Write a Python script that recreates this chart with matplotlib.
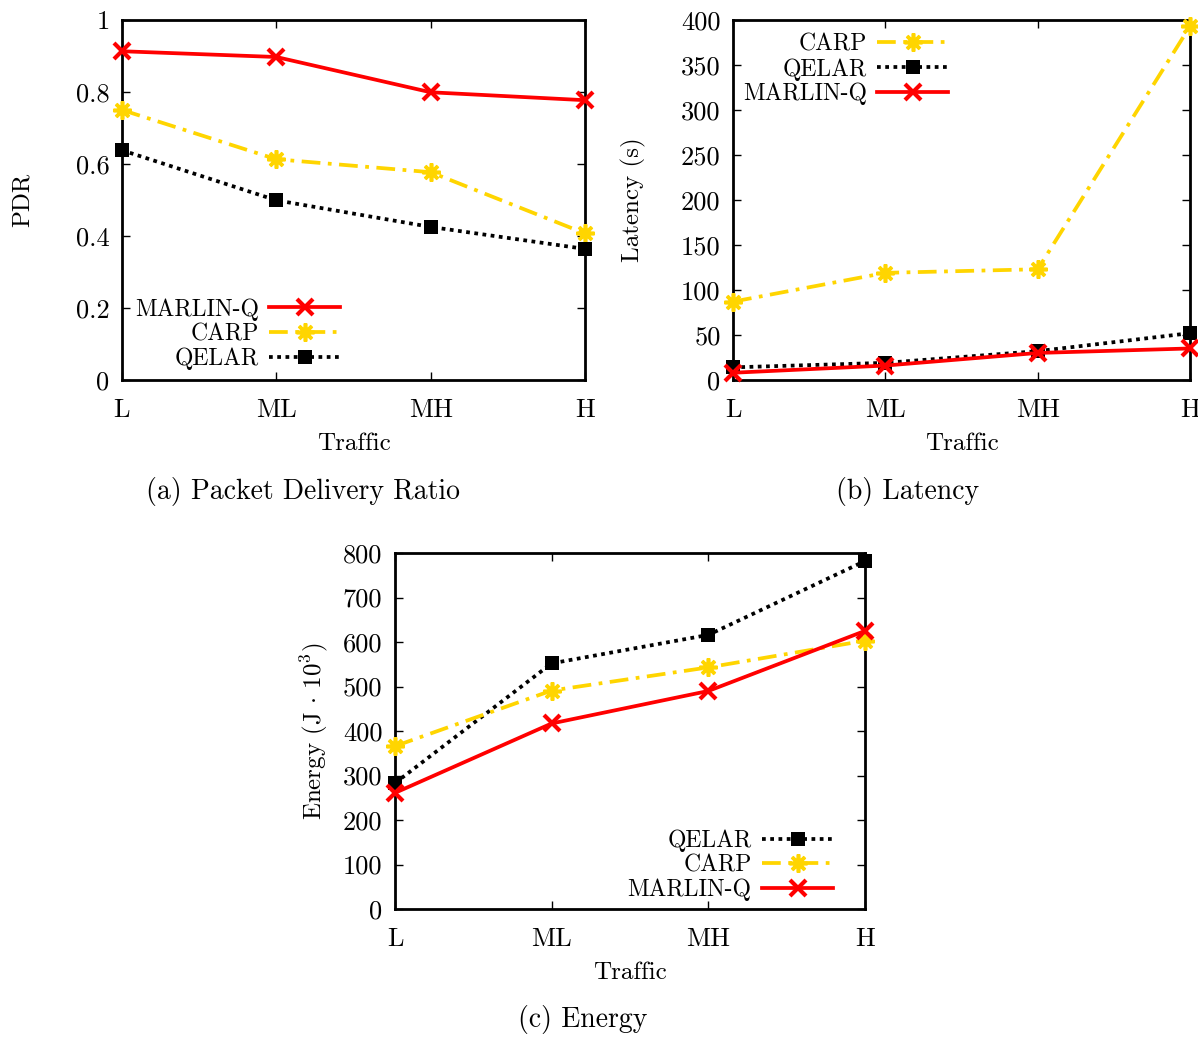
import matplotlib

matplotlib.use("Agg")
import matplotlib.pyplot as plt

plt.rcParams["font.family"] = ["cmr10", "DejaVu Serif"]
plt.rcParams["mathtext.fontset"] = "cm"
plt.rcParams["axes.formatter.use_mathtext"] = True

traffic = ["L", "ML", "MH", "H"]

# (a) packet delivery ratio
pdr_marlin = [0.913, 0.897, 0.799, 0.777]
pdr_carp = [0.750, 0.613, 0.577, 0.407]
pdr_qelar = [0.638, 0.499, 0.425, 0.364]

# (b) latency (s)
lat_carp = [87, 119, 123, 393]
lat_qelar = [14, 19, 32, 52]
lat_marlin = [8, 16, 30, 35]

# (c) energy (J x 10^3)
en_qelar = [283, 552, 616, 782]
en_carp = [366, 491, 543, 603]
en_marlin = [261, 417, 490, 625]

RED = "#ff0000"
GOLD = "#ffd500"
BLACK = "#000000"
TICK_FS = 19
LAB_FS = 18
LEG_FS = 17
CAP_FS = 20

STYLES = {
    "MARLIN-Q": dict(color=RED, ls="-", lw=2.7, marker="x", ms=11, mew=3),
    "CARP": dict(color=GOLD, ls=(0, (5, 2, 1, 2)), lw=2.7, marker=(8, 2, 0), ms=13, mew=2.6),
    "QELAR": dict(color=BLACK, ls=(0, (1, 1.2)), lw=2.7, marker="s", ms=10, mew=0),
}


def draw(ax, series, ylim, yticks, ylabel, ylabelpad, leg_loc, leg_anchor):
    x = list(range(len(traffic)))
    for name, vals in series:
        ax.plot(x, vals, label=name, clip_on=False, zorder=3, **STYLES[name])
    ax.set_xlim(0, len(traffic) - 1)
    ax.set_ylim(*ylim)
    ax.set_xticks(x)
    ax.set_xticklabels(traffic)
    ax.set_yticks(yticks)
    ax.set_yticklabels([f"{t:g}" for t in yticks])
    ax.tick_params(direction="in", top=True, right=True, labelsize=TICK_FS,
                   length=6, width=1)
    ax.tick_params(axis="x", pad=13)
    ax.tick_params(axis="y", pad=9)
    for s in ax.spines.values():
        s.set_linewidth(2)
    ax.set_xlabel("Traffic", fontsize=LAB_FS, labelpad=8)
    ax.set_ylabel(ylabel, fontsize=LAB_FS, labelpad=ylabelpad)
    ax.legend(loc=leg_loc, bbox_to_anchor=leg_anchor, frameon=False,
              markerfirst=False, fontsize=LEG_FS, handlelength=3.0,
              handletextpad=0.45, labelspacing=0.1, borderaxespad=0,
              borderpad=0)


fig = plt.figure(figsize=(11.98, 10.37), dpi=100)
ax_a = fig.add_axes([0.1018, 0.6336, 0.3865, 0.3472])
ax_b = fig.add_axes([0.6119, 0.6336, 0.3815, 0.3472])
ax_c = fig.add_axes([0.3297, 0.1234, 0.3923, 0.3433])

draw(ax_a, [("MARLIN-Q", pdr_marlin), ("CARP", pdr_carp), ("QELAR", pdr_qelar)],
     (0, 1), [0, 0.2, 0.4, 0.6, 0.8, 1], "PDR", 30, "lower right", (0.471, 0.028))

draw(ax_b, [("CARP", lat_carp), ("QELAR", lat_qelar), ("MARLIN-Q", lat_marlin)],
     (0, 400), list(range(0, 401, 50)), "Latency (s)", 25, "upper right", (0.4705, 0.962))

draw(ax_c, [("QELAR", en_qelar), ("CARP", en_carp), ("MARLIN-Q", en_marlin)],
     (0, 800), list(range(0, 801, 100)), r"Energy (J $\cdot$ 10$^3$)", 9,
     "lower right", (0.932, 0.022))

fig.text(303 / 1198, 1 - 492 / 1037, "(a) Packet Delivery Ratio", fontsize=CAP_FS,
         ha="center", va="center")
fig.text(908 / 1198, 1 - 492 / 1037, "(b) Latency", fontsize=CAP_FS,
         ha="center", va="center")
fig.text(583 / 1198, 1 - 1019 / 1037, "(c) Energy", fontsize=CAP_FS,
         ha="center", va="center")

fig.savefig("out.png", dpi=100)
